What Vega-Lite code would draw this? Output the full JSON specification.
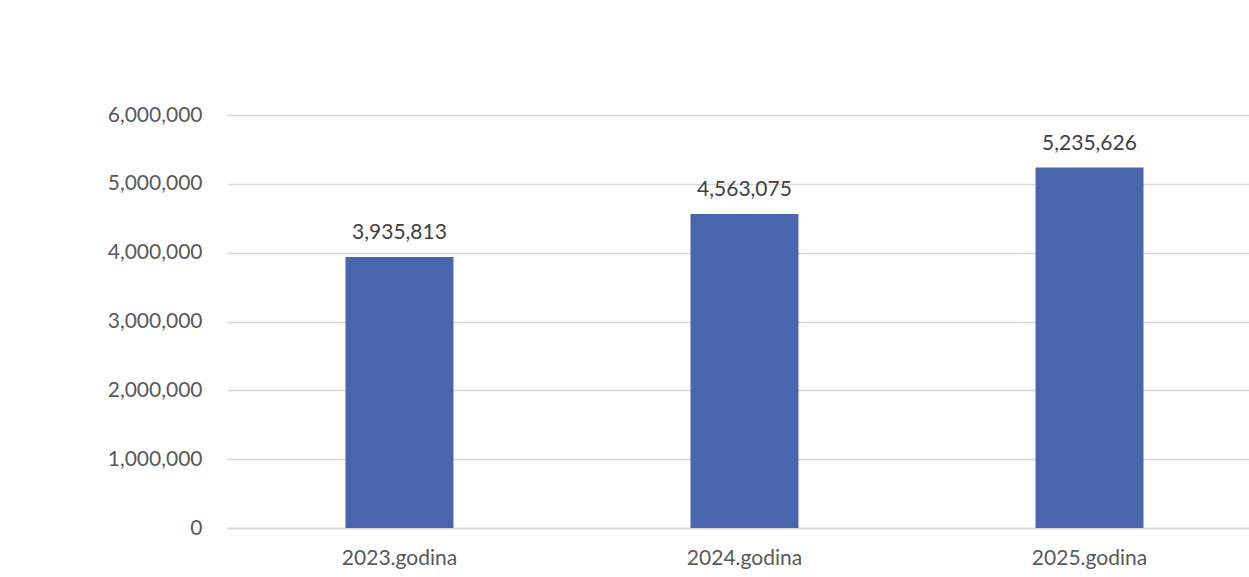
{
  "$schema": "https://vega.github.io/schema/vega-lite/v6.json",
  "autosize": {"type": "none"},
  "padding": {"left": 227, "top": 115, "right": 0, "bottom": 49},
  "width": 1022,
  "height": 413,
  "background": "white",
  "config": {"view": {"stroke": null}},
  "data": {"values": [
    {"year": "2023.godina", "value": 3935813},
    {"year": "2024.godina", "value": 4563075},
    {"year": "2025.godina", "value": 5235626}
  ]},
  "encoding": {
    "x": {"field": "year", "type": "nominal", "sort": null,
      "scale": {"paddingInner": 0.687, "paddingOuter": 0.3246, "align": 0.529},
      "axis": {"title": null, "labelAngle": 0, "ticks": false, "domain": true, "domainColor": "#d9d9d9", "domainWidth": 1.5,
        "labelFont": "Lato", "labelFontSize": 21, "labelColor": "#595959", "labelPadding": 19}},
    "y": {"field": "value", "type": "quantitative",
      "scale": {"domain": [0, 6000000], "nice": false},
      "axis": {"title": null, "values": [0, 1000000, 2000000, 3000000, 4000000, 5000000, 6000000], "format": ",d",
        "ticks": false, "domain": false, "grid": true, "gridColor": "#d9d9d9", "gridWidth": 1.5,
        "labelFont": "Lato", "labelFontSize": 21, "labelColor": "#595959", "labelPadding": 25}}
  },
  "layer": [
    {"mark": {"type": "bar", "color": "#4966AD"}},
    {"mark": {"type": "text", "dy": -24, "font": "Lato", "fontSize": 21, "color": "#404040"},
     "encoding": {"text": {"field": "value", "type": "quantitative", "format": ",d"}}}
  ]
}
